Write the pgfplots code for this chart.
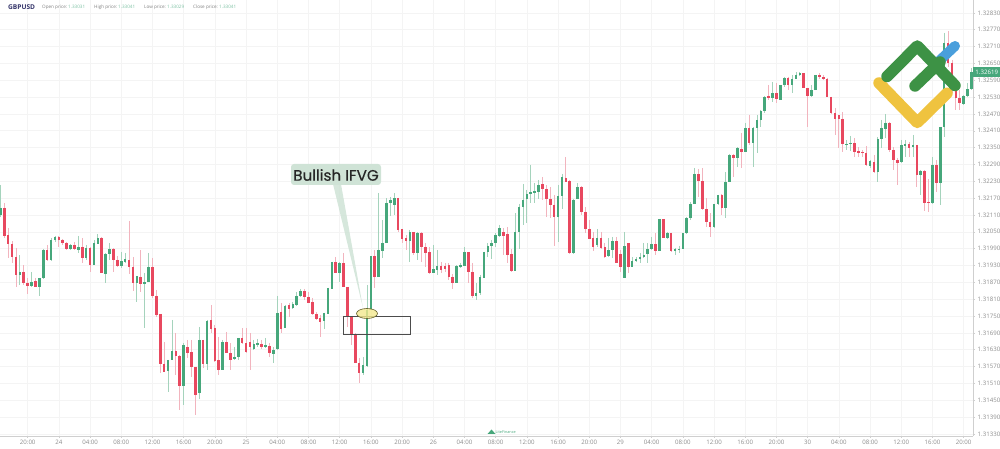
\documentclass[border=0pt]{standalone}
\usepackage{pgfplots}
\usepackage{pgfplotstable}
\usepackage{fontspec}
\pgfplotsset{compat=1.18}
\setmainfont{Open Sans}
\newfontfamily\pop[FakeBold=0.35]{Poppins}
\definecolor{gbody}{HTML}{46A77B}
\definecolor{rbody}{HTML}{E8485F}
\definecolor{gwick}{HTML}{A5D3BC}
\definecolor{rwick}{HTML}{F2B4BE}
\definecolor{gridc}{HTML}{F4F4F4}
\definecolor{axisc}{HTML}{CFCFCF}
\definecolor{labc}{HTML}{8C8C8C}
\definecolor{logog}{HTML}{3D9245}
\definecolor{logoy}{HTML}{EFC33F}
\definecolor{logob}{HTML}{4A9FDC}
\definecolor{callc}{HTML}{CFE3D6}
\definecolor{ellc}{HTML}{F3E88E}
% columns: half-hour index, wick top, body top, body bottom, wick bottom (chart rows)
\pgfplotstableread{
i wt bt bb wb
0 185 208 215 217
5 255 272 275 285
8 272 282 286 287
10 278 278 287 296
11 249 250 278 279
13 238 240 260 261
14 236 237 240 242
18 244 245 249 250
20 236 247 250 253
22 245 248 258 260
24 240 243 265 265
25 234 238 244 244
27 253 254 274 283
28 243 249 254 260
31 252 261 266 268
32 253 259 262 263
35 276 276 283 302
37 273 282 284 328
38 253 267 282 282
43 360 360 371 392
44 320 351 360 360
47 343 345 386 405
51 327 340 393 399
53 320 321 364 370
57 340 342 370 370
60 347 357 359 360
61 338 338 357 360
65 340 344 349 350
66 339 343 345 347
68 338 345 347 348
70 347 350 354 363
71 296 313 349 350
73 305 306 328 328
75 302 304 308 309
76 292 296 305 306
77 289 291 296 297
83 313 313 321 329
84 288 288 314 314
85 262 262 289 289
87 262 263 273 282
93 357 365 373 375
94 285 310 366 367
95 256 256 310 310
97 193 250 277 277
98 220 243 251 258
99 198 203 243 243
100 197 200 203 216
101 193 198 205 215
105 230 232 241 262
107 232 233 253 260
111 245 269 273 273
112 250 266 270 275
117 265 266 283 283
118 263 265 267 268
119 247 252 266 266
122 283 293 296 300
123 275 277 293 295
124 252 252 278 278
125 243 246 252 257
126 240 243 246 259
127 233 235 243 247
128 225 228 236 237
132 213 232 271 271
133 204 207 232 249
134 184 200 207 225
135 190 194 199 223
136 165 192 194 203
137 183 191 193 203
138 180 185 192 199
143 185 196 217 242
144 174 177 196 209
147 199 200 253 254
148 183 187 199 199
153 229 238 245 247
156 238 250 256 257
157 237 241 250 258
160 232 246 278 278
162 257 261 267 267
163 257 259 261 262
164 253 257 259 263
165 243 255 257 258
166 243 249 254 263
167 237 244 249 250
169 219 219 251 251
171 232 233 238 239
173 248 249 251 255
174 246 249 250 253
175 233 233 249 249
176 217 218 233 234
177 202 204 218 220
178 168 174 204 204
183 204 204 227 228
184 195 195 204 205
186 172 182 208 218
187 154 155 182 182
189 147 148 158 167
191 123 128 152 152
193 127 128 143 167
194 115 120 128 153
195 110 111 120 127
196 96 97 111 113
198 82 93 98 102
200 85 85 100 100
201 77 78 85 87
203 75 79 85 93
204 72 75 79 79
205 72 73 75 76
208 85 90 96 97
209 75 75 90 90
217 140 144 145 150
218 136 143 144 151
223 160 161 166 168
225 137 139 172 182
226 120 128 139 148
227 114 123 129 138
231 140 145 162 163
232 140 144 146 157
234 135 145 147 157
236 170 171 175 195
239 157 165 203 204
241 127 127 183 205
242 33 43 127 137
247 95 96 104 105
248 83 89 96 97
249 68 72 89 90
}\greentab
\pgfplotstableread{
i wt bt bb wb
1 203 208 236 238
2 228 235 244 258
3 241 244 257 263
4 248 257 275 287
6 265 272 283 285
7 278 283 286 294
9 278 281 287 287
12 245 250 260 261
15 236 237 240 247
16 239 240 243 245
17 242 243 249 250
19 242 245 249 250
21 238 247 258 263
23 247 248 265 272
26 237 238 273 273
29 248 249 260 272
30 256 260 266 267
33 221 260 267 274
34 257 267 283 291
36 250 277 284 292
39 258 267 296 298
40 290 296 315 317
41 314 314 364 373
42 342 364 372 372
45 333 351 356 375
46 355 356 386 410
48 340 347 353 358
49 340 352 367 377
50 367 367 395 415
52 340 340 364 368
54 305 320 329 333
55 325 328 361 362
56 337 360 370 375
58 332 342 353 353
59 343 353 360 370
62 328 338 343 344
63 328 343 352 353
64 333 342 347 370
67 340 344 347 349
69 343 346 353 357
72 303 312 329 333
74 303 305 309 317
78 289 291 297 300
79 292 297 303 303
80 298 302 314 315
81 312 314 319 320
82 315 318 322 337
86 257 262 273 273
88 253 263 287 287
89 287 287 317 327
90 316 316 335 345
91 333 334 363 363
92 358 363 373 383
96 250 256 277 288
102 198 198 230 232
103 229 229 239 243
104 235 238 241 250
106 232 232 253 255
108 232 233 247 262
109 243 247 253 267
110 247 252 273 274
113 262 266 270 273
114 263 266 269 272
115 263 265 277 280
116 274 277 283 289
120 252 252 272 283
121 263 272 296 298
129 228 232 236 255
130 227 234 255 263
131 249 254 271 272
139 177 184 189 200
140 185 189 199 217
141 187 199 205 218
142 195 205 217 246
145 157 178 182 182
146 180 181 253 254
149 186 187 212 215
150 207 212 229 233
151 220 229 239 239
152 232 238 247 251
154 232 238 248 249
155 243 247 257 258
158 237 241 263 263
159 250 254 267 272
161 243 243 267 273
168 233 244 251 255
170 219 219 238 238
172 233 233 251 252
179 169 174 181 197
180 168 181 209 210
181 198 209 222 227
182 213 222 227 237
185 194 195 208 215
188 154 155 158 177
190 133 149 152 168
192 115 128 143 145
197 85 96 98 100
199 83 93 99 103
202 77 78 85 90
206 73 73 88 88
207 88 88 96 127
210 73 75 77 79
211 75 77 79 80
212 78 79 97 97
213 97 97 113 114
214 108 113 119 135
215 115 115 119 148
216 112 119 144 152
219 138 143 152 157
220 147 151 153 157
221 150 152 153 157
222 146 153 165 166
224 155 162 172 173
228 122 123 150 152
229 147 150 160 170
230 158 160 163 185
233 142 144 148 157
235 145 145 175 187
237 170 171 203 211
238 179 202 203 212
240 160 165 183 192
243 31 43 63 67
244 60 63 89 93
245 83 90 98 110
246 90 98 103 110
}\redtab
\newcommand{\kp}{0.00003563}
\newcommand{\candles}[3]{%
 \addplot[draw=none,mark=none,forget plot,error bars/.cd,y dir=minus,y explicit,error mark=none,
   error bar style={line width=0.8pt,color=#2}]
   table[x=i,y expr=1.32876-\thisrow{wt}*\kp,y error minus expr=(\thisrow{wb}-\thisrow{wt})*\kp]{#1};
 \addplot[draw=none,mark=none,forget plot,error bars/.cd,y dir=minus,y explicit,error mark=none,
   error bar style={line width=2.6pt,color=#3}]
   table[x=i,y expr=1.32876-\thisrow{bt}*\kp,y error minus expr=(\thisrow{bb}-\thisrow{bt})*\kp]{#1};
}
\begin{document}
\begin{tikzpicture}[x=1pt,y=1pt]
\path[use as bounding box] (0,0) rectangle (1000,449);
\begin{axis}[
  at={(0pt,13pt)},anchor=south west,
  scale only axis,width=973pt,height=436pt,
  xmin=-0.1,xmax=249.4,ymin=1.313225,ymax=1.32876,
  axis x line*=bottom,axis y line*=right,
  axis line style={draw=axisc,line width=0.7pt,-},
  grid=major,grid style={draw=gridc,line width=0.6pt},
  tick style={draw=axisc,line width=0.5pt},
  tick align=outside,major tick length=2pt,
  xtick={7,15,...,247},
  xticklabels={20:00,24,04:00,08:00,12:00,16:00,20:00,25,04:00,08:00,12:00,16:00,20:00,26,04:00,08:00,12:00,16:00,20:00,29,04:00,08:00,12:00,16:00,20:00,30,04:00,08:00,12:00,16:00,20:00},
  ytick={1.3133,1.3139,...,1.3284},
  scaled y ticks=false,
  /pgf/number format/fixed,
  /pgf/number format/zerofill,
  /pgf/number format/precision=5,
  /pgf/number format/assume math mode=true,
  ticklabel style={font=\fontsize{6.1}{7}\selectfont,text=labc},
  xticklabel style={yshift=1pt},
  yticklabel style={xshift=-0.8pt},
]
\candles{\greentab}{gwick}{gbody}
\candles{\redtab}{rwick}{rbody}
\end{axis}
\begin{scope}[shift={(0,449)},y=-1pt,x=1pt]
% price tag
\fill[gbody] (973,67.5) rectangle (1000,77.5);
\node[text=white,font=\fontsize{6.1}{7}\selectfont] at (986.7,72.5) {1.32619};
% header
\node[anchor=west,inner sep=0pt,text=black!65!blue!60!gray,font=\fontsize{6.6}{7}\selectfont\bfseries] at (8,7.3) {GBPUSD};
\foreach \xa/\a/\xb/\b in {42/Open price:/68/1.33031,94/High price:/118/1.33041,144/Low price:/167/1.33029,193/Close price:/219/1.33041}{
  \node[anchor=west,inner sep=0pt,text=gray,font=\fontsize{4.6}{5}\selectfont] at (\xa,7.3) {\a};
  \node[anchor=west,inner sep=0pt,text=gbody!70,font=\fontsize{4.6}{5}\selectfont] at (\xb,7.3) {\b};
}
% box and callout
\draw[draw=black!70,line width=0.7pt] (343.5,316) rectangle (410,334.5);
\fill[fill=callc,opacity=0.85] (333,184) -- (341,184) -- (363,308) -- cycle;
\fill[fill=callc,rounded corners=3pt] (291,164) rectangle (381,185);
\node[font=\pop\fontsize{15.2}{16}\selectfont,text=black!85,inner sep=0pt] at (336,175) {Bullish IFVG};
\draw[draw=olive!60!black,line width=0.6pt,fill=ellc,fill opacity=0.8] (367,313.5) ellipse (10.5 and 5);
% logo
\draw[line width=10pt,line cap=round,color=logob] (938,62) -- (955,46);
\draw[line width=11.5pt,line cap=round,line join=round,color=logoy] (879,83) -- (917.3,122.5) -- (947,93.3);
\draw[line width=11.5pt,line cap=round,line join=round,color=logog] (887,76.5) -- (917.3,46) -- (955,85.5);
\draw[line width=11.5pt,line cap=round,color=logog] (915,86) -- (940,62);
% watermark
\fill[gbody] (487.5,434) -- (491.5,429.5) -- (495.5,434) -- cycle;
\node[anchor=west,inner sep=0pt,text=gbody,font=\fontsize{3.8}{4}\selectfont] at (495.5,432.5) {LiteFinance};
\end{scope}
\end{tikzpicture}
\end{document}
